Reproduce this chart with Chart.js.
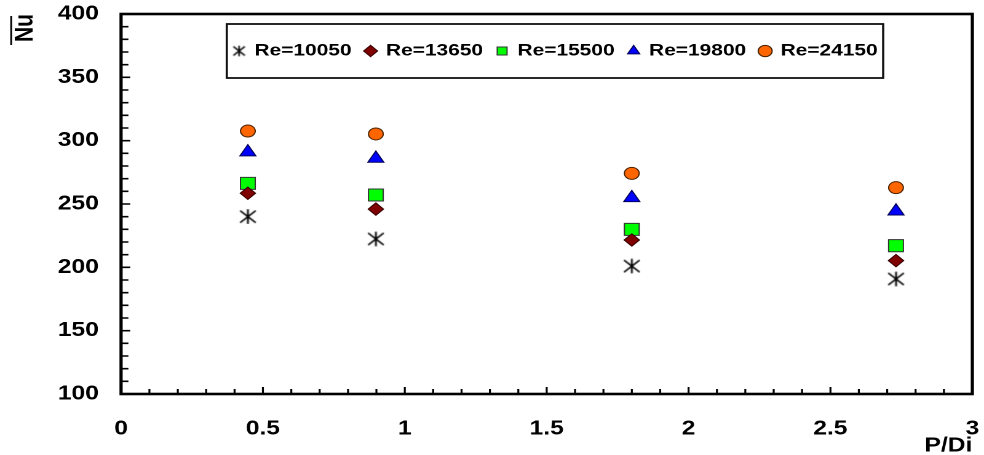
<!DOCTYPE html>
<html>
<head>
<meta charset="utf-8">
<script src="https://cdn.jsdelivr.net/npm/chart.js@4/dist/chart.umd.min.js"></script>
<style>
  html, body { margin: 0; padding: 0; background: #fff; }
</style>
</head>
<body>
<canvas id="chart" width="800" height="455" style="display:block;width:984px;height:455px"></canvas>
<script>
// Pitch ratio P/Di of the tested inserts
const pitchRatio = [0.447, 0.898, 1.800, 2.731];

// Mean Nusselt number for each Reynolds number
const nuRe10050 = [240.0, 222.4, 201.0, 190.8];
const nuRe13650 = [258.5, 246.0, 221.6, 205.3];
const nuRe15500 = [266.3, 257.1, 230.0, 217.1];
const nuRe19800 = [291.0, 285.9, 254.8, 244.3];
const nuRe24150 = [307.6, 305.3, 274.2, 262.9];

const seriesLabels = ['Re=10050', 'Re=13650', 'Re=15500', 'Re=19800', 'Re=24150'];

// Axis ranges and label steps
const xRange = [0, 3];
const yRange = [100, 400];
const xLabelStep = 0.5;
const yLabelStep = 50;

const FONT = "'Liberation Sans', Arial, Helvetica, sans-serif";

function toPoints(values) {
  return values.map((v, i) => ({ x: pitchRatio[i], y: v }));
}

// Six-armed asterisk marker (vertical bar plus a diagonal cross)
function asteriskMarker(size, lw) {
  const c = document.createElement('canvas');
  c.width = size; c.height = size;
  const g = c.getContext('2d');
  const m = size / 2, e = size * 0.08;
  g.strokeStyle = '#000';
  g.lineWidth = lw;
  g.beginPath();
  g.moveTo(m, 0.3); g.lineTo(m, size - 0.3);
  g.moveTo(e, e * 1.2); g.lineTo(size - e, size - e * 1.2);
  g.moveTo(size - e, e * 1.2); g.lineTo(e, size - e * 1.2);
  g.stroke();
  return c;
}
const plotStar = asteriskMarker(15, 1.5);
const legendStar = asteriskMarker(11, 1.3);

// Legend sits inside the plot, with a frame drawn around it
const legendPlacement = {
  id: 'legendPlacement',
  afterLayout(chart) {
    const lg = chart.legend, a = chart.chartArea;
    const pad = lg.options.labels.padding;
    const fs = lg.options.labels.font.size;
    lg.left = a.left + 15; lg.right = a.right; lg.width = lg.right - lg.left;
    lg.top = 51 - pad - fs / 2; lg.height = 40; lg.bottom = lg.top + lg.height;
  },
  afterDraw(chart) {
    const lg = chart.legend, ctx = chart.ctx;
    const pad = lg.options.labels.padding;
    const fs = lg.options.labels.font.size;
    const lw = lg.lineWidths[0];
    const startX = (lg.left + pad + lg.right - lw) / 2;
    const rowY = lg.top + pad + fs / 2;
    ctx.save();
    ctx.strokeStyle = '#111';
    ctx.lineWidth = 1.8;
    ctx.strokeRect(startX - 6, rowY - 27, lw - pad + 10.5, 54);
    ctx.restore();
  }
};

// Boxed frame with inward major and minor ticks, plus the overbar on the y title
const axisFrame = {
  id: 'axisFrame',
  afterDraw(chart) {
    const { ctx, chartArea: a, scales: { x, y } } = chart;
    ctx.save();
    ctx.strokeStyle = '#000';
    ctx.lineWidth = 1.6;
    ctx.beginPath();
    for (let i = 1; i < 30; i++) {
      const px = x.getPixelForValue(i / 10);
      const len = i % 5 === 0 ? 7 : 5;
      ctx.moveTo(px, a.bottom); ctx.lineTo(px, a.bottom - len);
    }
    for (let v = 110; v < 400; v += 10) {
      const py = y.getPixelForValue(v);
      const len = v % 50 === 0 ? 7.5 : 6;
      ctx.moveTo(a.left, py); ctx.lineTo(a.left + len, py);
    }
    ctx.stroke();

    ctx.lineWidth = 2.6;
    ctx.strokeRect(a.left, a.top, a.right - a.left, a.bottom - a.top);

    const t = y.options.title;
    ctx.font = 'bold ' + t.font.size + 'px ' + FONT;
    const w = ctx.measureText(t.text).width;
    const lineH = t.font.size * 1.2;
    const titleX = y.left + lineH / 2 + t.padding.top;
    ctx.lineWidth = 1.5;
    ctx.beginPath();
    ctx.moveTo(titleX - 11.5, a.top + 2);
    ctx.lineTo(titleX - 11.5, a.top + w + 3);
    ctx.stroke();
    ctx.restore();
  }
};

const tickFont = { family: FONT, size: 20, weight: 'bold' };

new Chart(document.getElementById('chart'), {
  type: 'scatter',
  data: {
    datasets: [
      { label: seriesLabels[0], data: toPoints(nuRe10050), pointStyle: plotStar,
        pointRadius: 7.5, backgroundColor: '#000', borderColor: '#000', borderWidth: 1 },
      { label: seriesLabels[1], data: toPoints(nuRe13650), pointStyle: 'rectRot',
        pointRadius: 6.2, backgroundColor: '#800000', borderColor: '#3a0000', borderWidth: 1 },
      { label: seriesLabels[2], data: toPoints(nuRe15500), pointStyle: 'rect',
        pointRadius: 8.5, backgroundColor: '#00ff00', borderColor: '#333333', borderWidth: 1 },
      { label: seriesLabels[3], data: toPoints(nuRe19800), pointStyle: 'triangle',
        pointRadius: 7.5, backgroundColor: '#0000ff', borderColor: '#00005a', borderWidth: 1 },
      { label: seriesLabels[4], data: toPoints(nuRe24150), pointStyle: 'circle',
        pointRadius: 6, backgroundColor: '#ff6600', borderColor: '#4a2200', borderWidth: 1 }
    ]
  },
  options: {
    responsive: false,
    devicePixelRatio: 2,
    animation: false,
    events: [],
    layout: { padding: { left: 0, right: 8.7, top: 14, bottom: 0 } },
    scales: {
      x: {
        type: 'linear', position: 'bottom',
        min: xRange[0], max: xRange[1],
        grid: { display: true, drawOnChartArea: false, drawTicks: true,
                tickLength: 23, tickColor: 'rgba(0,0,0,0)' },
        border: { display: false },
        ticks: { stepSize: xLabelStep, font: tickFont, color: '#000', padding: 0,
                 maxRotation: 0, autoSkip: false, callback: (v) => String(v) },
        title: { display: true, text: 'P/Di', align: 'end', color: '#000',
                 font: { family: FONT, size: 20, weight: 'bold' }, padding: { top: 0, bottom: -3 } },
        afterFit(scale) { scale.height = 61; }
      },
      y: {
        type: 'linear', position: 'left',
        min: yRange[0], max: yRange[1],
        grid: { display: true, drawOnChartArea: false, drawTicks: true,
                tickLength: 18, tickColor: 'rgba(0,0,0,0)' },
        border: { display: false },
        ticks: { stepSize: yLabelStep, font: tickFont, color: '#000', padding: 0 },
        title: { display: true, text: 'Nu', align: 'end', color: '#000',
                 font: { family: FONT, size: 21, weight: 'bold' }, padding: { top: 8, bottom: 0 } },
        afterFit(scale) { scale.width = 98.4; }
      }
    },
    plugins: {
      tooltip: { enabled: false },
      legend: {
        display: true,
        position: 'top',
        maxHeight: 0.01,
        labels: {
          usePointStyle: true, boxWidth: 8, boxHeight: 8, padding: 11.5, color: '#000',
          font: { family: FONT, size: 17, weight: 'bold' },
          generateLabels(chart) {
            const items = Chart.defaults.plugins.legend.labels.generateLabels(chart);
            items.forEach(it => { if (it.datasetIndex === 0) it.pointStyle = legendStar; });
            return items;
          }
        }
      }
    }
  },
  plugins: [legendPlacement, axisFrame]
});
</script>
</body>
</html>
